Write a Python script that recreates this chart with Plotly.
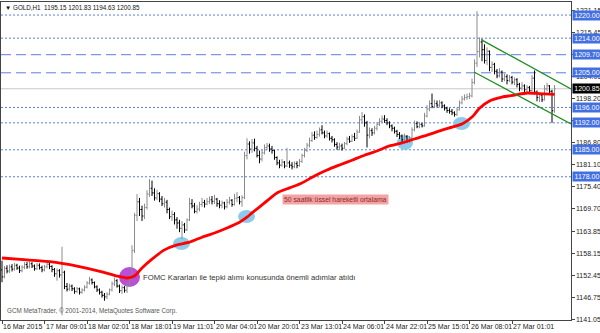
import plotly.graph_objects as go

# ---------------- data ----------------
bar_open = [1153.8, 1152.0, 1154.2, 1153.5, 1154.6, 1154.0, 1155.0, 1154.3, 1153.6, 1154.5,
            1155.2, 1154.6, 1155.4, 1154.8, 1154.1, 1155.0, 1154.4, 1153.8, 1154.6, 1155.3,
            1154.7, 1153.9, 1152.8, 1153.6, 1152.5, 1153.2, 1149.5, 1148.8, 1149.6, 1148.9,
            1148.2, 1148.9, 1148.0, 1148.6, 1149.3, 1150.4, 1151.2, 1150.5, 1149.4, 1148.6,
            1148.0, 1147.2, 1146.8, 1147.5, 1148.6, 1150.2, 1151.0, 1149.6, 1148.4, 1149.2,
            1148.5, 1149.8, 1151.5, 1158.8, 1168.0, 1171.5, 1169.5, 1167.8, 1170.0, 1173.5,
            1175.0, 1173.8, 1172.5, 1173.6, 1172.2, 1171.0, 1171.4, 1169.5, 1167.6, 1168.2,
            1166.8, 1166.0, 1164.6, 1165.5, 1164.2, 1166.8, 1171.0, 1170.4, 1169.0, 1169.6,
            1170.8, 1171.3, 1170.9, 1171.5, 1172.0, 1171.6, 1172.2, 1171.0, 1170.6, 1171.2,
            1170.2, 1171.4, 1171.9, 1170.8, 1172.4, 1172.6, 1171.5, 1172.6, 1183.5, 1186.5,
            1185.2, 1186.8, 1185.4, 1183.5, 1182.6, 1184.2, 1185.6, 1186.0, 1185.2, 1184.8,
            1183.0, 1181.6, 1181.0, 1181.8, 1180.8, 1181.6, 1181.0, 1180.6, 1181.4, 1180.9,
            1182.0, 1183.5, 1184.8, 1186.2, 1187.4, 1188.8, 1188.2, 1189.0, 1190.2, 1189.4,
            1188.6, 1189.2, 1188.0, 1187.6, 1186.4, 1185.7, 1186.0, 1185.4, 1186.6, 1187.8,
            1187.2, 1188.4, 1188.0, 1189.6, 1192.8, 1193.6, 1192.0, 1188.8, 1190.0, 1189.4,
            1190.6, 1191.6, 1192.4, 1193.0, 1192.6, 1192.0, 1191.2, 1190.6, 1189.8, 1189.0,
            1188.6, 1187.6, 1188.4, 1187.4, 1188.0, 1190.2, 1191.8, 1191.0, 1191.6, 1191.2,
            1193.8, 1195.6, 1197.0, 1196.2, 1197.0, 1196.6, 1197.2, 1196.4, 1195.8, 1195.2,
            1195.0, 1194.6, 1194.2, 1195.4, 1197.2, 1198.2, 1198.6, 1198.8, 1199.0, 1202.5,
            1207.5, 1210.5, 1213.0, 1211.0, 1208.2, 1210.6, 1206.4, 1207.2, 1205.4, 1204.2,
            1205.2, 1203.4, 1204.0, 1203.0, 1203.8, 1202.6, 1203.2, 1202.0, 1201.0, 1201.6,
            1200.6, 1201.2, 1200.4, 1203.6, 1200.0, 1198.6, 1199.2, 1198.0, 1200.8, 1201.6,
            1200.2, 1195.15]
bar_high = [1156.2, 1154.8, 1155.0, 1155.2, 1155.3, 1155.6, 1155.4, 1154.9, 1155.0, 1155.8,
            1155.9, 1156.0, 1155.8, 1155.2, 1155.6, 1155.5, 1154.9, 1155.1, 1155.9, 1155.7,
            1155.0, 1154.3, 1154.2, 1154.0, 1159.8, 1153.6, 1150.4, 1150.2, 1150.0, 1149.3,
            1149.4, 1149.2, 1149.0, 1149.8, 1150.9, 1152.0, 1151.6, 1150.8, 1149.8, 1149.0,
            1148.4, 1147.8, 1148.0, 1149.0, 1150.8, 1151.8, 1151.4, 1150.0, 1149.8, 1149.6,
            1150.6, 1152.4, 1160.2, 1168.6, 1173.5, 1172.5, 1170.5, 1171.0, 1174.5, 1177.4,
            1177.0, 1175.0, 1174.6, 1174.0, 1173.0, 1172.5, 1172.0, 1170.0, 1169.2, 1168.8,
            1167.5, 1166.8, 1166.5, 1166.0, 1167.2, 1172.5, 1172.2, 1171.2, 1170.6, 1171.5,
            1172.5, 1172.0, 1172.5, 1172.9, 1173.0, 1173.3, 1172.5, 1171.9, 1171.8, 1171.5,
            1172.2, 1172.8, 1172.2, 1173.6, 1174.0, 1173.0, 1173.2, 1184.5, 1188.0, 1187.2,
            1187.8, 1187.9, 1186.0, 1184.8, 1185.0, 1186.4, 1186.8, 1186.6, 1186.0, 1185.0,
            1183.3, 1182.4, 1182.6, 1182.1, 1185.5, 1182.2, 1181.8, 1182.0, 1182.0, 1182.6,
            1184.0, 1185.5, 1186.8, 1188.2, 1189.6, 1189.8, 1190.0, 1190.8, 1191.4, 1190.0,
            1190.0, 1189.5, 1188.6, 1188.0, 1187.0, 1186.8, 1186.6, 1187.0, 1188.4, 1188.6,
            1189.0, 1189.4, 1190.3, 1193.8, 1194.8, 1194.2, 1192.5, 1190.8, 1190.6, 1191.2,
            1192.2, 1193.2, 1193.9, 1194.0, 1193.2, 1192.4, 1191.6, 1191.0, 1190.2, 1189.6,
            1189.0, 1189.2, 1188.8, 1188.6, 1190.8, 1192.6, 1192.4, 1192.2, 1192.0, 1194.6,
            1196.6, 1197.8, 1199.6, 1198.0, 1197.8, 1197.9, 1197.6, 1196.8, 1196.2, 1195.8,
            1195.6, 1195.0, 1196.0, 1197.8, 1199.0, 1199.4, 1199.6, 1199.8, 1203.5, 1208.5,
            1221.0, 1214.2, 1213.8, 1212.4, 1211.6, 1210.8, 1208.0, 1207.6, 1206.0, 1206.2,
            1205.6, 1204.8, 1204.6, 1204.4, 1204.2, 1203.8, 1203.6, 1202.4, 1202.6, 1202.0,
            1201.8, 1201.6, 1204.4, 1205.6, 1200.4, 1199.8, 1199.6, 1201.8, 1202.4, 1201.8,
            1200.6, 1201.83]
bar_low = [1150.6, 1151.6, 1152.9, 1153.0, 1153.4, 1153.6, 1153.8, 1153.0, 1153.2, 1154.0,
           1154.1, 1154.2, 1154.3, 1153.6, 1153.8, 1153.9, 1153.2, 1153.4, 1154.2, 1154.0,
           1153.2, 1152.0, 1151.0, 1151.8, 1142.0, 1148.8, 1148.2, 1148.4, 1148.3, 1147.6,
           1147.8, 1147.4, 1147.6, 1148.2, 1149.0, 1150.0, 1150.0, 1149.0, 1148.1, 1147.4,
           1146.6, 1145.8, 1146.2, 1147.2, 1148.2, 1149.6, 1149.2, 1147.8, 1147.6, 1147.9,
           1147.8, 1149.4, 1151.0, 1158.2, 1166.5, 1167.8, 1166.5, 1167.0, 1169.5, 1172.8,
           1173.0, 1171.8, 1171.9, 1171.4, 1170.4, 1170.0, 1168.5, 1167.0, 1166.5, 1165.6,
           1164.5, 1163.6, 1161.9, 1163.4, 1163.9, 1166.5, 1169.8, 1168.5, 1168.4, 1169.0,
           1170.2, 1170.0, 1170.6, 1170.9, 1170.8, 1170.9, 1170.2, 1169.8, 1169.8, 1169.5,
           1169.8, 1170.8, 1170.2, 1170.5, 1171.4, 1170.8, 1170.2, 1172.2, 1182.5, 1184.0,
           1184.2, 1184.6, 1183.0, 1181.5, 1182.0, 1183.8, 1184.9, 1184.5, 1184.0, 1182.4,
           1181.0, 1180.2, 1180.6, 1180.2, 1180.5, 1180.3, 1179.9, 1180.2, 1180.2, 1180.6,
           1181.6, 1183.0, 1184.4, 1185.6, 1187.0, 1187.6, 1187.9, 1188.4, 1189.0, 1188.0,
           1188.1, 1187.4, 1186.9, 1185.8, 1185.0, 1184.9, 1184.8, 1185.2, 1186.2, 1186.8,
           1187.0, 1187.3, 1187.8, 1189.4, 1191.8, 1191.0, 1185.6, 1188.0, 1188.6, 1189.0,
           1190.0, 1191.2, 1192.0, 1192.0, 1191.4, 1190.6, 1189.8, 1189.2, 1188.3, 1187.8,
           1186.9, 1186.6, 1186.8, 1186.8, 1187.6, 1189.8, 1190.6, 1190.6, 1190.8, 1191.0,
           1193.4, 1195.0, 1195.8, 1195.8, 1196.0, 1196.0, 1195.8, 1195.2, 1194.6, 1194.4,
           1194.0, 1193.6, 1193.8, 1195.2, 1196.8, 1197.8, 1198.0, 1198.2, 1198.6, 1202.0,
           1206.5, 1209.0, 1208.0, 1207.4, 1207.0, 1205.4, 1205.2, 1204.6, 1203.6, 1203.8,
           1202.6, 1202.8, 1202.0, 1202.6, 1202.0, 1201.8, 1201.2, 1200.2, 1200.4, 1200.0,
           1199.8, 1199.6, 1200.2, 1199.4, 1197.6, 1197.4, 1197.4, 1197.8, 1200.2, 1199.6,
           1192.0, 1194.63]
bar_close = [1152.0, 1154.2, 1153.5, 1154.6, 1154.0, 1155.0, 1154.3, 1153.6, 1154.5, 1155.2,
             1154.6, 1155.4, 1154.8, 1154.1, 1155.0, 1154.4, 1153.8, 1154.6, 1155.3, 1154.7,
             1153.9, 1152.8, 1153.6, 1152.5, 1153.2, 1149.5, 1148.8, 1149.6, 1148.9, 1148.2,
             1148.9, 1148.0, 1148.6, 1149.3, 1150.4, 1151.2, 1150.5, 1149.4, 1148.6, 1148.0,
             1147.2, 1146.8, 1147.5, 1148.6, 1150.2, 1151.0, 1149.6, 1148.4, 1149.2, 1148.5,
             1149.8, 1151.5, 1158.8, 1168.0, 1171.5, 1169.5, 1167.8, 1170.0, 1173.5, 1175.0,
             1173.8, 1172.5, 1173.6, 1172.2, 1171.0, 1171.4, 1169.5, 1167.6, 1168.2, 1166.8,
             1166.0, 1164.6, 1165.5, 1164.2, 1166.8, 1171.0, 1170.4, 1169.0, 1169.6, 1170.8,
             1171.3, 1170.9, 1171.5, 1172.0, 1171.6, 1172.2, 1171.0, 1170.6, 1171.2, 1170.2,
             1171.4, 1171.9, 1170.8, 1172.4, 1172.6, 1171.5, 1172.6, 1183.5, 1186.5, 1185.2,
             1186.8, 1185.4, 1183.5, 1182.6, 1184.2, 1185.6, 1186.0, 1185.2, 1184.8, 1183.0,
             1181.6, 1181.0, 1181.8, 1180.8, 1181.6, 1181.0, 1180.6, 1181.4, 1180.9, 1182.0,
             1183.5, 1184.8, 1186.2, 1187.4, 1188.8, 1188.2, 1189.0, 1190.2, 1189.4, 1188.6,
             1189.2, 1188.0, 1187.6, 1186.4, 1185.7, 1186.0, 1185.4, 1186.6, 1187.8, 1187.2,
             1188.4, 1188.0, 1189.6, 1192.8, 1193.6, 1192.0, 1188.8, 1190.0, 1189.4, 1190.6,
             1191.6, 1192.4, 1193.0, 1192.6, 1192.0, 1191.2, 1190.6, 1189.8, 1189.0, 1188.6,
             1187.6, 1188.4, 1187.4, 1188.0, 1190.2, 1191.8, 1191.0, 1191.6, 1191.2, 1193.8,
             1195.6, 1197.0, 1196.2, 1197.0, 1196.6, 1197.2, 1196.4, 1195.8, 1195.2, 1195.0,
             1194.6, 1194.2, 1195.4, 1197.2, 1198.2, 1198.6, 1198.8, 1199.0, 1202.5, 1207.5,
             1210.5, 1213.0, 1211.0, 1208.2, 1210.6, 1206.4, 1207.2, 1205.4, 1204.2, 1205.2,
             1203.4, 1204.0, 1203.0, 1203.8, 1202.6, 1203.2, 1202.0, 1201.0, 1201.6, 1200.6,
             1201.2, 1200.4, 1203.6, 1200.0, 1198.6, 1199.2, 1198.0, 1200.8, 1201.6, 1200.2,
             1195.15, 1200.85]

# 50-period exponential moving average (read at sample bars)
ema_bar = [0, 10, 20, 30, 40, 46, 50, 53, 56, 60, 65, 70, 75, 80, 85, 90, 95, 98, 100, 105,
           110, 115, 120, 125, 130, 135, 140, 145, 150, 155, 160, 165, 170, 175, 180, 184,
           188, 191, 195, 200, 205, 210, 215, 221]
ema_value = [1156.9, 1156.4, 1155.9, 1154.8, 1153.3, 1152.2, 1151.7, 1152.2, 1154.3, 1156.6,
             1159.0, 1160.3, 1161.0, 1162.3, 1163.4, 1164.7, 1166.2, 1167.5, 1168.6, 1171.2,
             1173.8, 1175.1, 1176.4, 1178.2, 1179.75, 1181.05, 1182.3, 1183.6, 1184.7, 1186.0,
             1186.8, 1187.8, 1188.8, 1189.9, 1190.9, 1191.7, 1193.5, 1195.8, 1197.7, 1198.7,
             1199.2, 1199.75, 1199.6, 1199.4]

time_tick_bar = [0, 17, 34, 51, 68, 85, 102, 119, 136, 153, 170, 187, 204]
time_labels = ["16 Mar 2015", "17 Mar 09:01", "18 Mar 02:01", "18 Mar 18:01", "19 Mar 11:01",
               "20 Mar 04:01", "20 Mar 20:01", "23 Mar 13:01", "24 Mar 06:01", "24 Mar 22:01",
               "25 Mar 15:01", "26 Mar 08:01", "27 Mar 01:01"]

# price scale tick marks, and the tick labels that stay visible (others sit under level boxes)
price_ticks = [1141.05, 1146.75, 1152.45, 1158.15, 1163.85, 1169.70, 1175.40, 1181.10,
               1186.80, 1192.50, 1198.20, 1204.05, 1209.75, 1215.45, 1221.15]
label_ticks = [1141.05, 1146.75, 1152.45, 1158.15, 1163.85, 1169.70, 1175.40, 1181.10,
               1186.80, 1198.20, 1204.05, 1215.45, 1221.15]
price_labels = ["1141.05", "1146.75", "1152.45", "1158.15", "1163.85", "1169.70", "1175.40",
                "1181.10", "1186.80", "1198.20", "1204.05", "1215.45", "1221.15"]

level_prices = [1220.00, 1214.00, 1209.70, 1205.00, 1196.00, 1192.00, 1185.00, 1178.00]
level_labels = ["1220.00", "1214.00", "1209.70", "1205.00", "1196.00", "1192.00", "1185.00", "1178.00"]
level_dashed = [False, False, True, True, False, False, False, False]

current_price = 1200.85
current_label = "1200.85"

channel_upper_bar = [192.0, 227.6]
channel_upper_price = [1213.5, 1200.8]
channel_lower_bar = [188.8, 227.6]
channel_lower_price = [1205.2, 1191.7]

header_text = "▼ GOLD,H1  1195.15 1201.83 1194.63 1200.85"
fomc_text = "FOMC Kararları ile tepki alımı konusunda önemli adımlar atıldı"
ema_text = "50 saatlik üssel hareketli ortalama"
copyright_text = "GCM MetaTrader, © 2001-2014, MetaQuotes Software Corp."

# ---------------- figure ----------------
FONT = "Liberation Sans"
n = len(bar_close)
bars_x = list(range(n))

fig = go.Figure()

fig.add_trace(go.Ohlc(
    x=bars_x, open=bar_open, high=bar_high, low=bar_low, close=bar_close,
    increasing=dict(line=dict(color="#8c8c8c", width=1)),
    decreasing=dict(line=dict(color="#000000", width=1)),
    tickwidth=0.45, hoverinfo="skip", showlegend=False,
))

fig.add_trace(go.Scatter(
    x=ema_bar, y=ema_value, mode="lines",
    line=dict(color="#ff0000", width=2.8, shape="spline", smoothing=0.6),
    hoverinfo="skip", showlegend=False,
))

shapes = []
for p, dashed in zip(level_prices, level_dashed):
    shapes.append(dict(type="line", xref="paper", x0=0, x1=1, yref="y", y0=p, y1=p,
                       line=dict(color="#5b7fe0", width=1, dash="10px,5px" if dashed else "2px,2px"),
                       layer="below"))
shapes.append(dict(type="line", xref="paper", x0=0, x1=1, yref="y", y0=current_price, y1=current_price,
                   line=dict(color="#c8c8c8", width=1), layer="below"))
ellipses = [
    (68.4, 75.2, 1158.97, 1162.35, "#8ccbeb"),
    (94.4, 101.2, 1165.98, 1169.36, "#8ccbeb"),
    (158.0, 164.4, 1184.95, 1188.84, "#8ccbeb"),
    (180.4, 187.2, 1190.14, 1193.52, "#8ccbeb"),
    (46.8, 55.2, 1149.36, 1154.56, "#b84fd6"),
]
for x0, x1, y0, y1, c in ellipses:
    shapes.append(dict(type="circle", xref="x", yref="y", x0=x0, x1=x1, y0=y0, y1=y1,
                       fillcolor=c, line=dict(width=0), layer="below"))
shapes.append(dict(type="line", xref="x", yref="y",
                   x0=channel_upper_bar[0], x1=channel_upper_bar[1],
                   y0=channel_upper_price[0], y1=channel_upper_price[1],
                   line=dict(color="#1f8f1f", width=1.3)))
shapes.append(dict(type="line", xref="x", yref="y",
                   x0=channel_lower_bar[0], x1=channel_lower_bar[1],
                   y0=channel_lower_price[0], y1=channel_lower_price[1],
                   line=dict(color="#1f8f1f", width=1.3)))

ann = []
for p, t in zip(label_ticks, price_labels):
    ann.append(dict(xref="paper", x=1, yref="y", y=p, text=t, showarrow=False,
                    xanchor="left", yanchor="middle", xshift=3,
                    font=dict(family=FONT, size=7, color="#222222")))
for p, t in zip(level_prices, level_labels):
    ann.append(dict(xref="paper", x=1, yref="y", y=p, text=t, showarrow=False,
                    xanchor="left", yanchor="middle", xshift=1, width=28, height=9,
                    align="center", bgcolor="#4270e0", borderpad=0,
                    font=dict(family=FONT, size=7, color="#ffffff")))
ann.append(dict(xref="paper", x=1, yref="y", y=current_price, text=current_label, showarrow=False,
                xanchor="left", yanchor="middle", xshift=1, width=28, height=9,
                align="center", bgcolor="#000000", borderpad=0,
                font=dict(family=FONT, size=7, color="#ffffff")))
for b, t in zip(time_tick_bar, time_labels):
    ann.append(dict(xref="x", x=b, yref="paper", y=0, text=t, showarrow=False,
                    xanchor="left", yanchor="top", yshift=-1, xshift=-1,
                    font=dict(family=FONT, size=7, color="#222222")))
ann.append(dict(xref="paper", x=0, yref="paper", y=1, text=header_text, showarrow=False,
                xanchor="left", yanchor="middle", xshift=2, yshift=-5,
                font=dict(family=FONT, size=6.3, color="#111111")))
ann.append(dict(xref="paper", x=0, yref="paper", y=0, text=copyright_text, showarrow=False,
                xanchor="left", yanchor="middle", xshift=4, yshift=9,
                font=dict(family=FONT, size=6.3, color="#555555")))
ann.append(dict(xref="x", x=55.6, yref="y", y=1151.96, text=fomc_text, showarrow=False,
                xanchor="left", yanchor="middle",
                font=dict(family=FONT, size=7.7, color="#333333")))
ann.append(dict(xref="x", x=112, yref="y", y=1172.1, text=ema_text, showarrow=False,
                xanchor="left", yanchor="middle", bgcolor="#f3a3a3", borderpad=1,
                font=dict(family=FONT, size=6.8, color="#8a2a2a")))

fig.update_layout(
    width=600, height=333,
    margin=dict(l=1, r=29, t=2, b=13),
    paper_bgcolor="#ffffff", plot_bgcolor="#ffffff",
    showlegend=False,
    shapes=shapes, annotations=ann,
    xaxis=dict(range=[-0.4, 227.6], showgrid=False, zeroline=False,
               showline=True, linecolor="#444444", linewidth=1, mirror=True,
               ticks="outside", ticklen=3, tickcolor="#444444",
               tickvals=time_tick_bar, showticklabels=False,
               rangeslider=dict(visible=False), fixedrange=True),
    yaxis=dict(range=[1140.79, 1223.39], side="right", showgrid=False, zeroline=False,
               showline=True, linecolor="#444444", linewidth=1, mirror=True,
               ticks="outside", ticklen=3, tickcolor="#444444",
               tickvals=price_ticks, showticklabels=False, fixedrange=True),
)

fig.write_html("out.html")
